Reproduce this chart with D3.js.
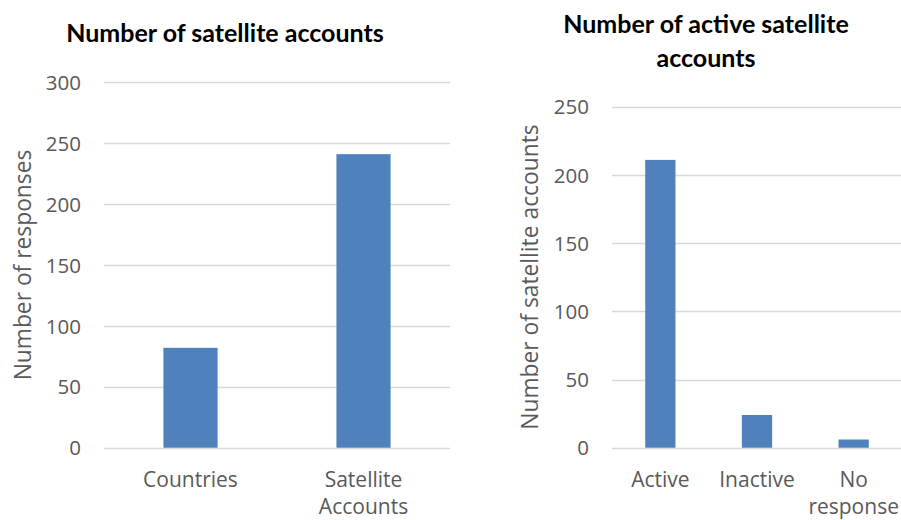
<!DOCTYPE html>
<html>
<head>
<meta charset="utf-8">
<script src="https://cdn.jsdelivr.net/npm/d3@7"></script>
<style>
  html, body { margin: 0; padding: 0; background: #fff; }
  svg { display: block; }
  .tick text { font-family: "Open Sans", sans-serif; fill: #595959; }
</style>
</head>
<body>
<svg id="chart" width="901" height="520"></svg>
<script>
// Chart 1: survey responses
const leftCategories = [["Countries"], ["Satellite", "Accounts"]];
const leftValues = [82, 241];
const leftTicks = [0, 50, 100, 150, 200, 250, 300];

// Chart 2: status of the satellite accounts
const rightCategories = [["Active"], ["Inactive"], ["No", "response"]];
const rightValues = [211, 24, 6];
const rightTicks = [0, 50, 100, 150, 200, 250];

const BAR = "#4f81bd";
const GRID = "#d9d9d9";
const TXT = "#595959";

const svg = d3.select("#chart");

function drawPanel(cfg) {
  const g = svg.append("g");
  const x = d3.scaleBand()
    .domain(cfg.categories.map((d, i) => i))
    .range([cfg.left, cfg.right])
    .paddingInner(0.687)
    .paddingOuter(0.3435);
  const y = d3.scaleLinear()
    .domain([0, cfg.max])
    .range([cfg.bottom, cfg.top]);

  // horizontal gridlines
  g.append("g")
    .selectAll("line")
    .data(cfg.ticks)
    .join("line")
    .attr("x1", cfg.left).attr("x2", cfg.right)
    .attr("y1", d => Math.round(y(d)) + 0.5)
    .attr("y2", d => Math.round(y(d)) + 0.5)
    .attr("stroke", GRID)
    .attr("stroke-width", 1.4);

  // y tick labels
  const ax = g.append("g")
    .attr("transform", `translate(${cfg.labelX},0)`)
    .call(d3.axisLeft(y).tickValues(cfg.ticks).tickSize(0).tickPadding(0).tickFormat(d3.format("d")));
  ax.select(".domain").remove();
  ax.selectAll(".tick text").attr("font-size", 20.5).attr("fill", TXT).attr("dy", "0.35em");

  // bars
  g.append("g")
    .selectAll("rect")
    .data(cfg.values)
    .join("rect")
    .attr("x", (d, i) => x(i))
    .attr("width", x.bandwidth())
    .attr("y", d => y(d))
    .attr("height", d => y(0) - y(d))
    .attr("fill", BAR);

  // category labels (may wrap onto two lines)
  const cat = g.append("g")
    .selectAll("text")
    .data(cfg.categories)
    .join("text")
    .attr("x", (d, i) => x(i) + x.bandwidth() / 2)
    .attr("y", cfg.catY)
    .attr("text-anchor", "middle")
    .attr("font-family", "Open Sans, sans-serif")
    .attr("font-size", 21)
    .attr("fill", TXT);
  cat.each(function(lines) {
    d3.select(this).selectAll("tspan")
      .data(lines)
      .join("tspan")
      .attr("x", d3.select(this).attr("x"))
      .attr("dy", (d, j) => j === 0 ? 0 : 26.5)
      .text(d => d);
  });

  // y axis title
  g.append("text")
    .attr("transform", `translate(${cfg.yTitleX},${cfg.yTitleY}) rotate(-90)`)
    .attr("text-anchor", "middle")
    .attr("dy", "0.35em")
    .attr("font-family", "Open Sans, sans-serif")
    .attr("font-size", 22.8)
    .attr("fill", TXT)
    .text(cfg.yTitle);

  // chart title
  const t = g.append("text")
    .attr("text-anchor", "middle")
    .attr("font-family", "Lato, sans-serif")
    .attr("font-weight", "bold")
    .attr("font-size", 25)
    .attr("fill", "#000");
  cfg.title.forEach((line, j) => {
    t.append("tspan")
      .attr("x", cfg.titleX)
      .attr("y", cfg.titleY + j * 33.5)
      .text(line);
  });
}

drawPanel({
  categories: leftCategories, values: leftValues, ticks: leftTicks, max: 300,
  left: 104, right: 450, top: 82.3, bottom: 447.7,
  labelX: 81, catY: 487,
  yTitle: "Number of responses", yTitleX: 23, yTitleY: 265,
  title: ["Number of satellite accounts"], titleX: 225, titleY: 41.5
});

drawPanel({
  categories: rightCategories, values: rightValues, ticks: rightTicks, max: 250,
  left: 612, right: 902, top: 106.7, bottom: 447.7,
  labelX: 589, catY: 487,
  yTitle: "Number of satellite accounts", yTitleX: 530, yTitleY: 277,
  title: ["Number of active satellite", "accounts"], titleX: 706, titleY: 33
});
</script>
</body>
</html>
